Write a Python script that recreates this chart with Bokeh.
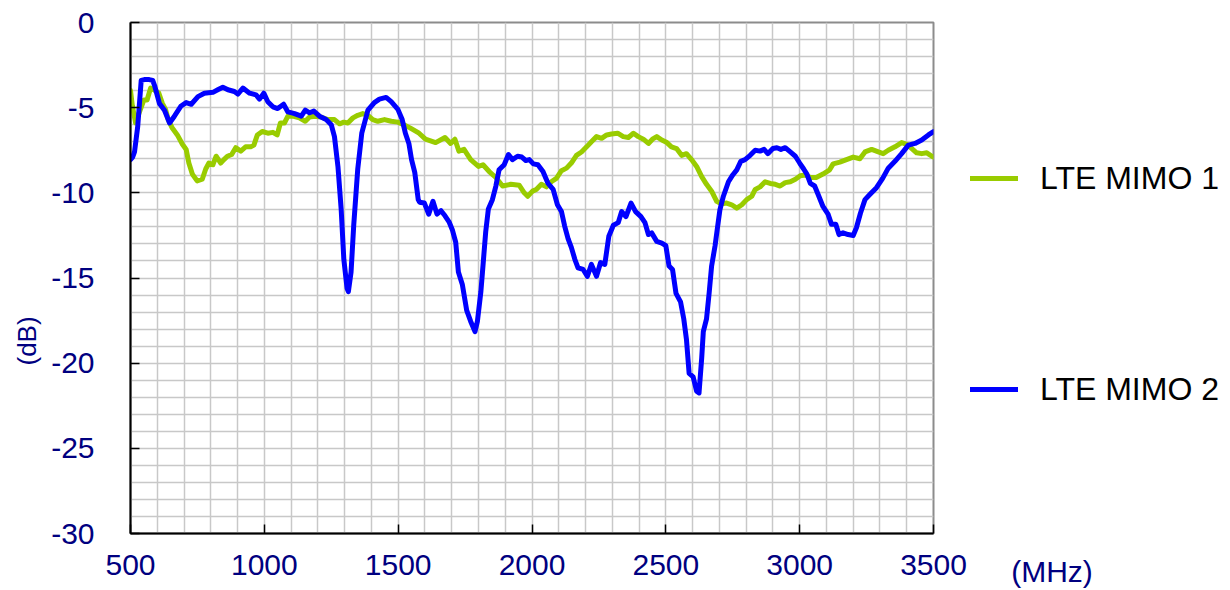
from bokeh.plotting import figure
from bokeh.layouts import row
from bokeh.models import (Range1d, FixedTicker, SingleIntervalTicker, LinearAxis,
                          Legend, LegendItem, Title)
from bokeh.embed import file_html
from bokeh.resources import INLINE

# ---------------- data ----------------
x_ticks = [500, 1000, 1500, 2000, 2500, 3000, 3500]
y_ticks = [-30, -25, -20, -15, -10, -5, 0]

mimo1_freq = [500, 507, 519, 537, 550, 562, 575, 587, 606, 619, 631, 641, 656, 675,
              694, 708, 718, 731, 749, 768, 781, 793, 808, 820, 837, 849, 862, 878,
              893, 912, 930, 949, 961, 974, 992, 1013, 1032, 1048, 1060, 1075, 1088,
              1106, 1131, 1153, 1169, 1187, 1212, 1237, 1262, 1281, 1297, 1312, 1331,
              1349, 1368, 1387, 1405, 1424, 1449, 1474, 1499, 1521, 1546, 1578, 1602,
              1640, 1675, 1696, 1712, 1727, 1746, 1771, 1800, 1817, 1840, 1865, 1890,
              1921, 1952, 1971, 1984, 2002, 2016, 2035, 2054, 2072, 2091, 2110, 2129,
              2147, 2166, 2185, 2204, 2222, 2241, 2260, 2279, 2297, 2320, 2341, 2360,
              2379, 2397, 2416, 2435, 2450, 2466, 2485, 2504, 2521, 2540, 2559, 2577,
              2596, 2615, 2634, 2652, 2671, 2690, 2709, 2727, 2746, 2765, 2784, 2802,
              2821, 2834, 2852, 2871, 2890, 2909, 2927, 2946, 2965, 2984, 3002, 3021,
              3040, 3062, 3087, 3112, 3125, 3150, 3175, 3200, 3225, 3244, 3269, 3294,
              3312, 3331, 3356, 3381, 3400, 3419, 3437, 3456, 3475, 3494, 3500]
mimo1_db = [-4.0, -4.9, -5.9, -5.1, -4.55, -4.55, -3.85, -3.95, -4.15, -4.75, -5.1, -5.7,
            -6.2, -6.6, -7.15, -7.45, -8.25, -8.9, -9.3, -9.2, -8.6, -8.25, -8.35, -7.85,
            -8.25, -8.05, -7.85, -7.75, -7.35, -7.55, -7.3, -7.3, -7.2, -6.6, -6.4, -6.5,
            -6.45, -6.6, -5.9, -5.9, -5.5, -5.5, -5.6, -5.8, -5.55, -5.5, -5.55, -5.7,
            -5.7, -5.95, -5.85, -5.9, -5.6, -5.45, -5.35, -5.45, -5.7, -5.8, -5.7, -5.8,
            -5.85, -6.0, -6.2, -6.5, -6.85, -7.05, -6.75, -7.1, -6.85, -7.55, -7.45,
            -8.05, -8.45, -8.35, -8.75, -9.1, -9.6, -9.5, -9.55, -10.0, -10.2, -9.9,
            -9.8, -9.5, -9.65, -9.35, -9.15, -8.7, -8.55, -8.25, -7.8, -7.6, -7.3, -7.0,
            -6.7, -6.8, -6.6, -6.55, -6.5, -6.7, -6.75, -6.5, -6.7, -6.85, -7.1, -6.85,
            -6.7, -6.9, -7.05, -7.3, -7.4, -7.8, -7.7, -8.05, -8.45, -9.05, -9.5, -9.9,
            -10.5, -10.65, -10.6, -10.7, -10.9, -10.7, -10.4, -10.2, -9.8, -9.65, -9.35,
            -9.45, -9.5, -9.6, -9.4, -9.35, -9.2, -9.0, -8.95, -9.1, -9.1, -8.9, -8.65,
            -8.3, -8.2, -8.05, -7.9, -8.0, -7.6, -7.45, -7.6, -7.7, -7.5, -7.3, -7.05,
            -7.15, -7.4, -7.65, -7.7, -7.65, -7.85, -7.9]

mimo2_freq = [500, 508, 515, 527, 540, 552, 570, 583, 590, 608, 627, 646, 664, 689, 708,
              727, 752, 776, 808, 826, 845, 864, 888, 901, 920, 945, 969, 982, 998, 1013,
              1032, 1050, 1072, 1088, 1113, 1138, 1153, 1169, 1185, 1206, 1231, 1250,
              1262, 1275, 1287, 1297, 1309, 1314, 1324, 1334, 1349, 1364, 1387, 1411,
              1430, 1455, 1474, 1499, 1515, 1527, 1540, 1550, 1562, 1575, 1580, 1598,
              1614, 1630, 1645, 1660, 1675, 1690, 1703, 1715, 1725, 1740, 1756, 1771,
              1787, 1796, 1809, 1817, 1827, 1837, 1852, 1865, 1877, 1896, 1912, 1927,
              1946, 1962, 1977, 1990, 2005, 2022, 2041, 2060, 2079, 2095, 2110, 2122,
              2135, 2147, 2160, 2172, 2191, 2207, 2222, 2241, 2256, 2272, 2287, 2304,
              2322, 2335, 2351, 2370, 2387, 2407, 2422, 2435, 2447, 2466, 2485, 2500,
              2512, 2525, 2538, 2555, 2567, 2577, 2587, 2602, 2615, 2624, 2634, 2640,
              2652, 2662, 2671, 2684, 2692, 2702, 2715, 2734, 2750, 2765, 2780, 2796,
              2815, 2834, 2852, 2867, 2881, 2900, 2915, 2930, 2946, 2965, 2984, 3000,
              3015, 3027, 3040, 3056, 3069, 3087, 3106, 3119, 3135, 3147, 3162, 3181,
              3200, 3212, 3227, 3244, 3262, 3287, 3310, 3331, 3356, 3381, 3406, 3431,
              3456, 3481, 3500]
mimo2_db = [-8.05, -7.9, -7.6, -6.1, -3.4, -3.35, -3.35, -3.4, -3.7, -4.75, -5.15, -5.9,
            -5.5, -4.9, -4.7, -4.8, -4.35, -4.15, -4.1, -3.95, -3.8, -3.95, -4.05, -4.2,
            -3.85, -4.15, -4.25, -4.5, -4.15, -4.65, -4.95, -5.05, -4.8, -5.25, -5.35,
            -5.5, -5.15, -5.3, -5.2, -5.5, -5.7, -6.0, -6.7, -8.45, -10.95, -13.9, -15.6,
            -15.8, -14.65, -11.9, -8.6, -6.5, -5.15, -4.7, -4.5, -4.4, -4.65, -5.1, -5.7,
            -6.5, -7.1, -8.05, -8.8, -10.4, -10.55, -10.6, -11.25, -10.5, -11.25, -11.05,
            -11.35, -11.7, -12.2, -12.9, -14.65, -15.4, -16.9, -17.55, -18.15, -17.55,
            -15.8, -14.25, -12.3, -10.95, -10.4, -9.6, -8.65, -8.35, -7.75, -8.05, -7.85,
            -7.9, -8.1, -8.05, -8.3, -8.35, -8.75, -9.45, -9.8, -10.7, -11.1, -11.95,
            -12.7, -13.2, -13.9, -14.4, -14.5, -14.9, -14.2, -14.9, -14.1, -14.2, -12.55,
            -11.9, -11.75, -11.1, -11.4, -10.6, -11.1, -11.4, -11.75, -12.45, -12.35,
            -12.85, -12.95, -13.1, -14.3, -14.5, -15.9, -16.4, -17.4, -18.6, -20.6, -20.8,
            -21.65, -21.75, -19.7, -18.15, -17.4, -15.85, -14.3, -13.1, -12.15, -11.0,
            -10.2, -9.35, -8.95, -8.65, -8.15, -8.05, -7.8, -7.5, -7.55, -7.45, -7.7,
            -7.4, -7.35, -7.45, -7.35, -7.6, -7.85, -8.25, -8.6, -8.9, -9.45, -9.6, -10.1,
            -10.8, -11.25, -11.85, -11.85, -12.45, -12.35, -12.45, -12.5, -12.05, -11.2,
            -10.4, -10.1, -9.7, -9.15, -8.55, -8.15, -7.7, -7.2, -7.1, -6.9, -6.6, -6.4]

series_names = ["LTE MIMO 1", "LTE MIMO 2"]
series_colors = ["#99cc00", "#0000ff"]
x_unit = "(MHz)"
y_unit = "(dB)"

# ---------------- main chart ----------------
FONT = "Liberation Sans"
NAVY = "#000080"
WA, WB, H = 968, 262, 590

p = figure(width=WA, height=H, output_backend="svg", toolbar_location=None,
           x_range=Range1d(500, 3500), y_range=Range1d(-30, 0),
           min_border_left=130, min_border_right=35, min_border_top=22,
           min_border_bottom=53, background_fill_color="white",
           border_fill_color="white")

p.outline_line_color = "#8c8c8c"
p.outline_line_width = 2

for ax, ticks in ((p.xaxis, x_ticks), (p.yaxis, y_ticks)):
    ax.ticker = FixedTicker(ticks=ticks)
    ax.major_label_overrides = {t: str(t) for t in ticks}
    ax.axis_line_color = "black"
    ax.axis_line_width = 2
    ax.major_tick_in = 9
    ax.major_tick_out = 0
    ax.major_tick_line_color = "black"
    ax.major_tick_line_width = 1.5
    ax.minor_tick_line_color = None
    ax.major_label_text_font = FONT
    ax.major_label_text_font_size = "30px"
    ax.major_label_text_color = NAVY

p.xaxis.major_label_standoff = 21
p.yaxis.major_label_standoff = 36

p.xgrid.ticker = SingleIntervalTicker(interval=100, num_minor_ticks=0)
p.ygrid.ticker = SingleIntervalTicker(interval=1, num_minor_ticks=0)
for g in (p.xgrid, p.ygrid):
    g.grid_line_color = "#c8c8c8"
    g.grid_line_width = 1.5

p.line(mimo1_freq, mimo1_db, line_color=series_colors[0], line_width=5,
       line_join="round", line_cap="round")
p.line(mimo2_freq, mimo2_db, line_color=series_colors[1], line_width=5,
       line_join="round", line_cap="round")

p.add_layout(Title(text=y_unit, align="left", offset=168, standoff=14,
                   text_font=FONT, text_font_size="26px", text_color=NAVY,
                   text_font_style="normal"), "left")

# ---------------- legend / unit panel (frame aligned with the chart) ----------------
q = figure(width=WB, height=H, output_backend="svg", toolbar_location=None,
           x_range=Range1d(0, WB), y_range=Range1d(0, 1),
           x_axis_type=None, y_axis_type=None,
           min_border_left=0, min_border_right=0, min_border_top=22,
           min_border_bottom=53, background_fill_color="white",
           border_fill_color="white", outline_line_color=None)
q.grid.visible = False

# legend sample renderers (kept outside the visible range)
k1 = q.line([-20, -10], [-5, -5], line_color=series_colors[0], line_width=5,
            line_cap="round")
k2 = q.line([-20, -10], [-5, -5], line_color=series_colors[1], line_width=5,
            line_cap="round")

legend = Legend(items=[LegendItem(label=series_names[0], renderers=[k1]),
                       LegendItem(label=series_names[1], renderers=[k2])],
                location=(2, 124), orientation="vertical", spacing=171,
                glyph_width=48, glyph_height=40, label_height=40,
                label_standoff=22, padding=0, margin=0,
                border_line_color=None, background_fill_alpha=0,
                label_text_font=FONT, label_text_font_size="32px",
                label_text_color="black")
q.add_layout(legend)

unit_pos = 83.5
unit_axis = LinearAxis(ticker=FixedTicker(ticks=[unit_pos]),
                       major_label_overrides={unit_pos: x_unit},
                       axis_line_color=None, major_tick_line_color=None,
                       minor_tick_line_color=None, major_tick_in=0,
                       major_tick_out=0, major_label_standoff=21,
                       major_label_text_font=FONT,
                       major_label_text_font_size="30px",
                       major_label_text_color=NAVY)
q.add_layout(unit_axis, "below")

layout = row(p, q, spacing=0)
open("out.html", "w").write(file_html(layout, INLINE))
